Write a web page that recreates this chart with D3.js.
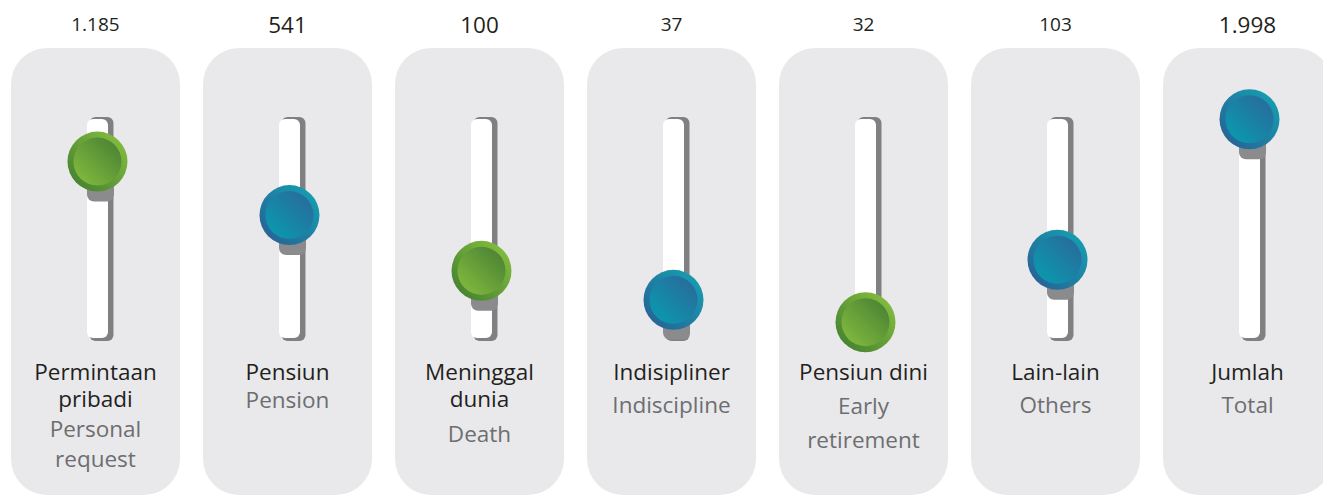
<!DOCTYPE html>
<html>
<head>
<meta charset="utf-8">
<script src="https://cdn.jsdelivr.net/npm/d3@7"></script>
<style>
  html, body { margin: 0; padding: 0; background: #ffffff; }
  svg { display: block; }
</style>
</head>
<body>
<svg id="chart" width="1323" height="496"></svg>
<script>
// ---- data ----
const categories = ["Permintaan pribadi", "Pensiun", "Meninggal dunia", "Indisipliner", "Pensiun dini", "Lain-lain", "Jumlah"];
const values = [1185, 541, 100, 37, 32, 103, 1998];
// slider knob level (0 = bottom of track, 100 = top)
const sliderLevel = [80, 56, 31, 18, 8, 36, 99];
const knobColor = ["green", "blue", "green", "blue", "green", "blue", "blue"];
const labelsId = [["Permintaan", "pribadi"], ["Pensiun"], ["Meninggal", "dunia"], ["Indisipliner"], ["Pensiun dini"], ["Lain-lain"], ["Jumlah"]];
const labelsEn = [["Personal", "request"], ["Pension"], ["Death"], ["Indiscipline"], ["Early", "retirement"], ["Others"], ["Total"]];

// ---- styles / layout ----
const valueSize = [19, 22.5, 22.5, 19, 19, 19, 22.5];
const enLead = [30, 28, 35, 33, 34, 33, 33];
const FONT = "'Open Sans', Lato, sans-serif";
const LABEL_SIZE = 22.5;

const svg = d3.select("#chart");
const defs = svg.append("defs");

function grad(id, x1, y1, x2, y2, c1, c2) {
  const g = defs.append("linearGradient").attr("id", id)
    .attr("x1", x1).attr("y1", y1).attr("x2", x2).attr("y2", y2);
  g.append("stop").attr("offset", "0%").attr("stop-color", c1);
  g.append("stop").attr("offset", "100%").attr("stop-color", c2);
}
grad("greenRing", "0%", "100%", "100%", "0%", "#3d7a2f", "#8cc540");
grad("greenInner", "0%", "100%", "100%", "0%", "#88c03e", "#447c34");
grad("blueRing", "0%", "100%", "100%", "0%", "#2a5b93", "#12a6b4");
grad("blueInner", "0%", "100%", "100%", "0%", "#069fb2", "#2d6599");

const x = d3.scaleBand().domain(categories).range([11, 1332]).paddingInner(0.12).paddingOuter(0);
const trackTop = 117, trackBottom = 340;
const y = d3.scaleLinear().domain([0, 100]).range([trackBottom, trackTop]);
const fmt = d3.formatLocale({ decimal: ",", thousands: ".", grouping: [3], currency: ["", ""] }).format(",d");

const data = categories.map((c, i) => ({
  cat: c, value: values[i], level: sliderLevel[i], color: knobColor[i],
  id: labelsId[i], en: labelsEn[i], vs: valueSize[i], lead: enLead[i]
}));

const g = svg.selectAll("g.card").data(data).join("g")
  .attr("class", "card")
  .attr("transform", d => `translate(${x(d.cat)},0)`);

const bw = x.bandwidth();
const cx = bw / 2;

// card background
g.append("rect")
  .attr("x", 0).attr("y", 48).attr("width", bw).attr("height", 447)
  .attr("rx", 36).attr("ry", 36)
  .attr("fill", "#e9e9eb");

// value on top
g.append("text")
  .attr("x", cx).attr("y", d => d.vs > 20 ? 33 : 31)
  .attr("text-anchor", "middle")
  .attr("font-family", FONT)
  .attr("font-size", d => d.vs)
  .attr("fill", "#231f20")
  .text(d => fmt(d.value));

// track shadow
g.append("rect")
  .attr("x", cx - 6).attr("y", trackTop).attr("width", 24).attr("height", trackBottom - trackTop + 1)
  .attr("rx", 6).attr("fill", "#808083");
// track white
g.append("rect")
  .attr("x", cx - 8.5).attr("y", trackTop + 2).attr("width", 21).attr("height", trackBottom - trackTop - 4)
  .attr("rx", 6).attr("fill", "#ffffff");

// knob shadow cap (clipped at the bottom of the track)
g.append("rect")
  .attr("x", cx - 8.5).attr("y", d => y(d.level))
  .attr("width", 27).attr("height", d => Math.max(0, Math.min(40, trackBottom + 1 - y(d.level))))
  .attr("rx", 7).attr("fill", "#8b8b8e");

// knob
g.append("circle")
  .attr("cx", cx + 2).attr("cy", d => y(d.level)).attr("r", 30)
  .attr("fill", d => `url(#${d.color}Ring)`);
g.append("circle")
  .attr("cx", cx + 2).attr("cy", d => y(d.level)).attr("r", 24)
  .attr("fill", d => `url(#${d.color}Inner)`);

// labels
g.each(function(d) {
  const sel = d3.select(this);
  const idBase = 380, idLine = 27;
  d.id.forEach((t, k) => {
    sel.append("text")
      .attr("x", cx).attr("y", idBase + k * idLine)
      .attr("text-anchor", "middle")
      .attr("font-family", FONT).attr("font-size", LABEL_SIZE)
      .attr("fill", "#231f20")
      .text(t);
  });
  const enBase = idBase + (d.id.length - 1) * idLine + d.lead;
  d.en.forEach((t, k) => {
    sel.append("text")
      .attr("x", cx).attr("y", enBase + k * d.lead)
      .attr("text-anchor", "middle")
      .attr("font-family", FONT).attr("font-size", LABEL_SIZE)
      .attr("fill", "#6d6e71")
      .text(t);
  });
});
</script>
</body>
</html>
